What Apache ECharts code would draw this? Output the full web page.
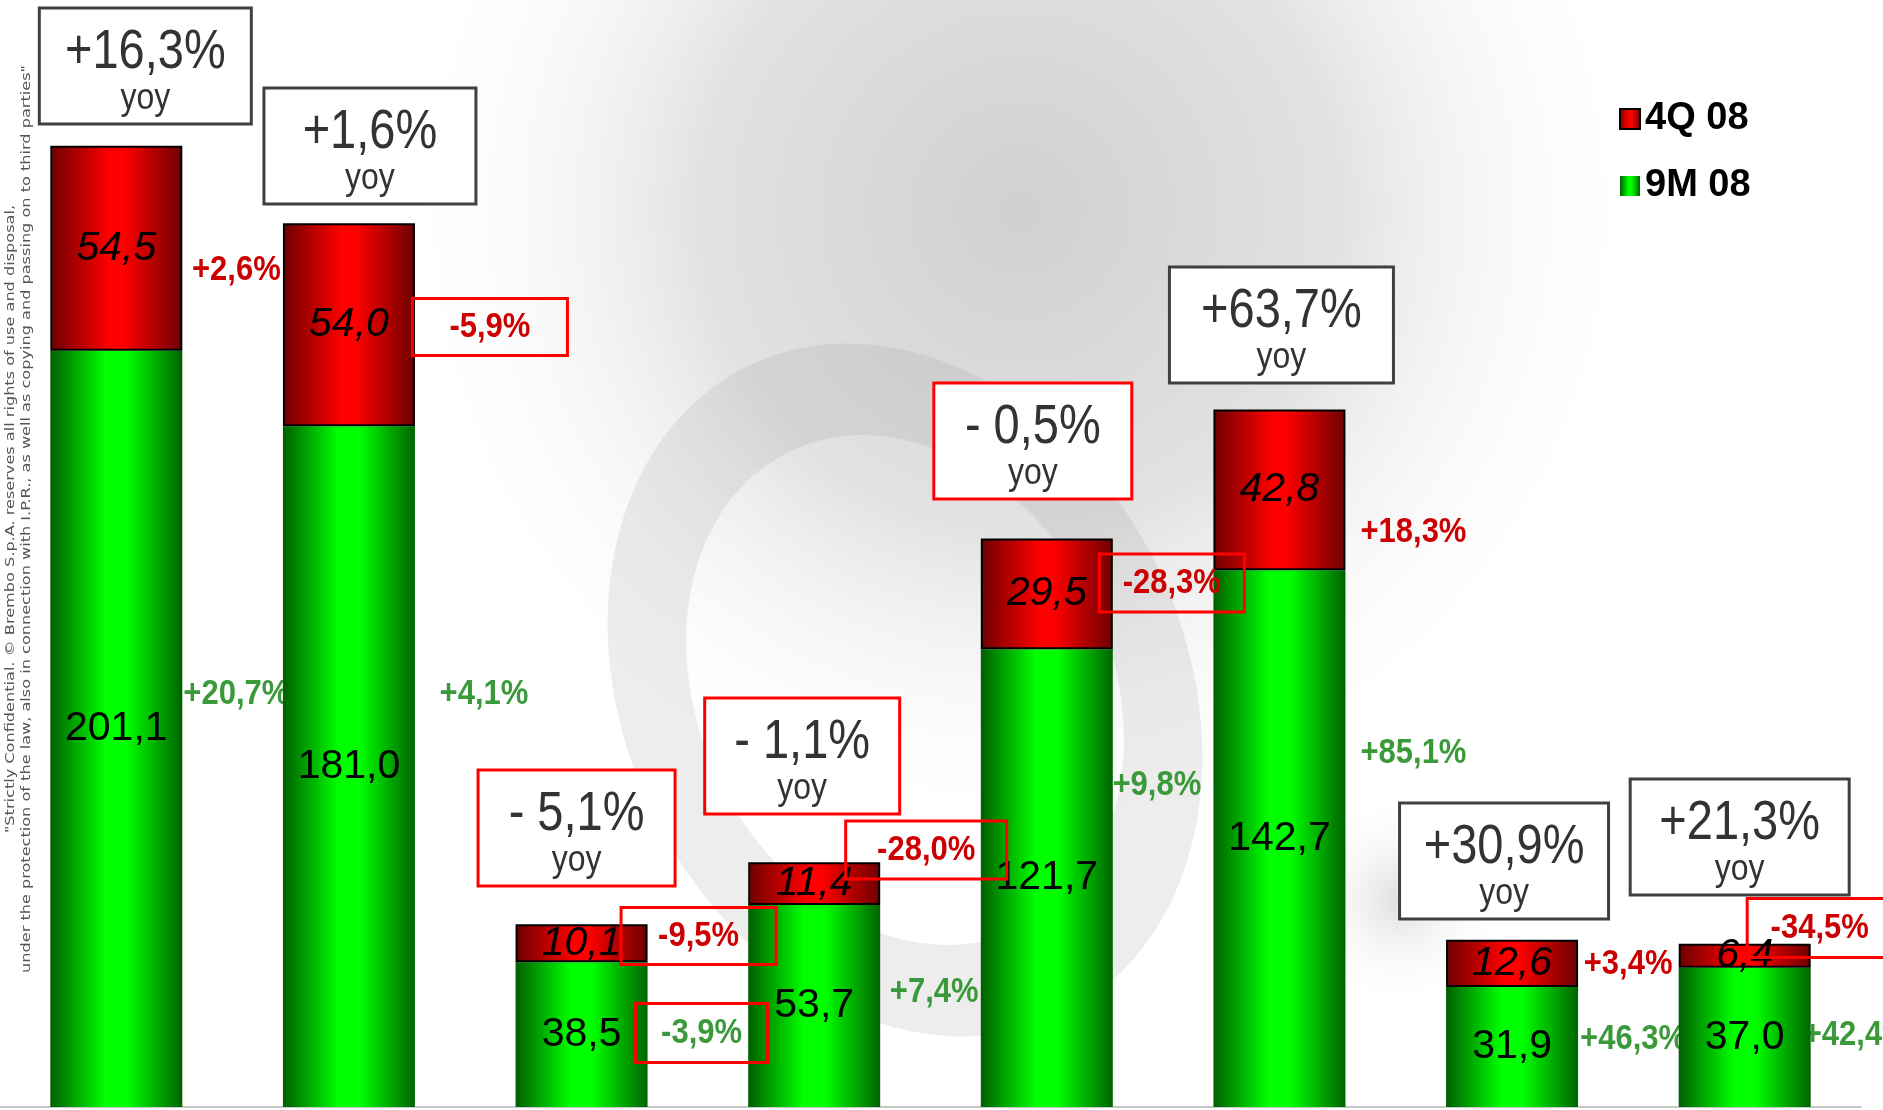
<!DOCTYPE html>
<html>
<head>
<meta charset="utf-8">
<title>4Q 08 / 9M 08</title>
<script src="https://cdn.jsdelivr.net/npm/echarts@6/dist/echarts.min.js"></script>
<style>
html, body { margin: 0; padding: 0; background: #fff; }
#main { width: 1883px; height: 1110px; }
</style>
</head>
<body>
<div id="main"></div>
<script>
// values
var categories = ['1', '2', '3', '4', '5', '6', '7', '8'];
var nineM = [201.1, 181.0, 38.5, 53.7, 121.7, 142.7, 31.9, 37.0];
var fourQ = [54.5, 54.0, 10.1, 11.4, 29.5, 42.8, 12.6, 6.4];
var yoyTotal = ['+16,3%', '+1,6%', '- 5,1%', '- 1,1%', '- 0,5%', '+63,7%', '+30,9%', '+21,3%'];
var yoyFourQ = ['+2,6%', '-5,9%', '-9,5%', '-28,0%', '-28,3%', '+18,3%', '+3,4%', '-34,5%'];
var yoyNineM = ['+20,7%', '+4,1%', '-3,9%', '+7,4%', '+9,8%', '+85,1%', '+46,3%', '+42,4%'];

// where the callouts sit (offset from the bar centre, pixels)
var totalBoxes = [
  { dx: 29, y: 8, w: 212, red: false },
  { dx: 21, y: 88, w: 212, red: false },
  { dx: -5, y: 770, w: 197, red: true },
  { dx: -12, y: 698, w: 195, red: true },
  { dx: -14, y: 383, w: 198, red: true },
  { dx: 2, y: 267, w: 224, red: false },
  { dx: -8, y: 803, w: 209, red: false },
  { dx: -5, y: 779, w: 219, red: false }
];
var fourQPos = [
  { dx: 120, y: 270 },
  { dx: 141, y: 327, box: [155, 57] },
  { dx: 117, y: 936, box: [155, 57] },
  { dx: 112, y: 850, box: [161, 58] },
  { dx: 125, y: 583, box: [145, 58] },
  { dx: 134, y: 532 },
  { dx: 116, y: 964 },
  { dx: 75, y: 928, box: [145, 59] }
];
var nineMPos = [
  { dx: 120, y: 694 },
  { dx: 135, y: 694 },
  { dx: 120, y: 1033, box: [132, 59] },
  { dx: 120, y: 992 },
  { dx: 110, y: 785 },
  { dx: 134, y: 753 },
  { dx: 121, y: 1039 },
  { dx: 112, y: 1035 }
];

var FONT = '"Liberation Sans", Arial, sans-serif';

function fmt(v) { return v.toFixed(1).replace('.', ','); }

var greenFill = new echarts.graphic.LinearGradient(0, 0, 1, 0, [
  { offset: 0, color: '#005f00' },
  { offset: 0.42, color: '#00ff00' },
  { offset: 0.58, color: '#00ff00' },
  { offset: 1, color: '#006400' }
]);
var redFill = new echarts.graphic.LinearGradient(0, 0, 1, 0, [
  { offset: 0, color: '#6e0000' },
  { offset: 0.45, color: '#ff0000' },
  { offset: 0.55, color: '#ff0000' },
  { offset: 1, color: '#6e0000' }
]);

var chart = echarts.init(document.getElementById('main'));

var option = {
  backgroundColor: '#fff',
  animation: false,
  grid: { left: -2, right: 22, top: 54, bottom: 3 },
  legend: {
    data: ['4Q 08', '9M 08'],
    orient: 'vertical',
    left: 1614,
    top: 95,
    icon: 'rect',
    itemWidth: 20,
    itemHeight: 20,
    itemGap: 29,
    textStyle: { fontSize: 38, fontWeight: 'bold', color: '#000', fontFamily: FONT }
  },
  xAxis: {
    type: 'category',
    data: categories,
    axisLine: { lineStyle: { color: '#c8c8c8', width: 2 } },
    axisTick: { show: false },
    axisLabel: { show: false }
  },
  yAxis: { type: 'value', min: 0, max: 280, show: false },
  series: [
    {
      name: '9M 08',
      type: 'bar',
      stack: 'tot',
      barWidth: 132,
      data: nineM,
      itemStyle: { color: greenFill },
      label: {
        show: true, position: 'inside', color: '#000', fontSize: 41, fontFamily: FONT,
        formatter: function (p) { return fmt(p.value); }
      }
    },
    {
      name: '4Q 08',
      type: 'bar',
      stack: 'tot',
      barWidth: 132,
      data: fourQ,
      itemStyle: { color: redFill, borderColor: '#000', borderWidth: 2 },
      label: {
        show: true, position: 'inside', color: '#000', fontSize: 41, fontStyle: 'italic', fontFamily: FONT,
        formatter: function (p) { return fmt(p.value); }
      }
    }
  ]
};
chart.setOption(option);

// background watermark + callouts
var g = [];
g.push({
  type: 'ellipse', z: -10, silent: true,
  shape: { cx: 1020, cy: 210, rx: 820, ry: 640 },
  style: {
    fill: new echarts.graphic.RadialGradient(0.5, 0.5, 0.5, [
      { offset: 0, color: '#d0d0d0' },
      { offset: 0.5, color: '#e2e2e2' },
      { offset: 1, color: 'rgba(255,255,255,0)' }
    ])
  }
});
// faint tilted logo ring and its soft shadow
g.push({
  type: 'ring', z: -9, silent: true, x: 905, y: 690, rotation: 0.45, scaleX: 0.78,
  shape: { cx: 0, cy: 0, r: 360, r0: 265 },
  style: { fill: 'rgba(140,140,140,0.16)' }
});
g.push({
  type: 'ellipse', z: -9, silent: true, x: 1400, y: 900, rotation: 0.3,
  shape: { cx: 0, cy: 0, rx: 360, ry: 110 },
  style: {
    fill: new echarts.graphic.RadialGradient(0.5, 0.5, 0.5, [
      { offset: 0, color: 'rgba(175,175,175,0.4)' },
      { offset: 1, color: 'rgba(255,255,255,0)' }
    ])
  }
});

function txt(x, y, s, font, color, z, sy) {
  return {
    type: 'text', z: z, silent: true, x: x, y: y, scaleY: sy || 1,
    style: { text: s, font: font, fill: color, align: 'center', verticalAlign: 'middle',
             textAlign: 'center', textVerticalAlign: 'middle' }
  };
}

for (var i = 0; i < categories.length; i++) {
  var c = chart.convertToPixel({ xAxisIndex: 0 }, categories[i]);

  var b = totalBoxes[i];
  var bx = c + b.dx - b.w / 2;
  g.push({
    type: 'rect', z: 20, silent: true,
    shape: { x: bx, y: b.y, width: b.w, height: 116 },
    style: { fill: '#fff', stroke: b.red ? '#ff0000' : '#404040', lineWidth: 3 }
  });
  g.push(txt(c + b.dx, b.y + 45, yoyTotal[i], '47px ' + FONT, '#333', 21, 1.18));
  g.push(txt(c + b.dx, b.y + 91, 'yoy', '32px ' + FONT, '#333', 21, 1.15));

  var q = fourQPos[i];
  if (q.box) {
    g.push({
      type: 'rect', z: 20, silent: true,
      shape: { x: c + q.dx - q.box[0] / 2, y: q.y - q.box[1] / 2, width: q.box[0], height: q.box[1] },
      style: { fill: 'none', stroke: '#ff0000', lineWidth: 3 }
    });
  }
  g.push(txt(c + q.dx, q.y, yoyFourQ[i], 'bold 31px ' + FONT, '#cc0000', q.box ? 21 : 1, 1.15));

  var n = nineMPos[i];
  if (n.box) {
    g.push({
      type: 'rect', z: 20, silent: true,
      shape: { x: c + n.dx - n.box[0] / 2, y: n.y - n.box[1] / 2, width: n.box[0], height: n.box[1] },
      style: { fill: 'none', stroke: '#ff0000', lineWidth: 3 }
    });
  }
  g.push(txt(c + n.dx, n.y, yoyNineM[i], 'bold 31px ' + FONT, '#3a9a3a', n.box ? 21 : 1, 1.15));
}

// confidentiality note along the left edge
var noteLines = [
  '"Strictly Confidential. \u00A9 Brembo S.p.A. reserves all rights of use and disposal,',
  'under the protection of the law, also in connection with I.P.R., as well as copying and passing on to third parties"'
];
noteLines.forEach(function (s, k) {
  g.push({
    type: 'text', z: 30, silent: true, x: 11 + 16 * k, y: 519, rotation: Math.PI / 2, scaleX: 1.24,
    style: { text: s, font: '13px "DejaVu Sans", sans-serif', fill: '#555', align: 'center', verticalAlign: 'middle',
             textAlign: 'center', textVerticalAlign: 'middle' }
  });
});

chart.setOption({ graphic: { elements: g } });
</script>
</body>
</html>
